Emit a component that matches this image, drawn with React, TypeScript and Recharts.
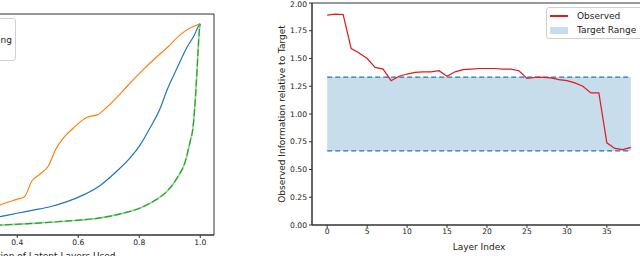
import {
  LineChart, Line, XAxis, YAxis, ReferenceArea, ReferenceLine,
} from 'recharts';

// left panel: three curves, x = fraction of latent layers used
const orangeX = [0.0, 0.1, 0.2, 0.3, 0.344, 0.399, 0.423, 0.448, 0.475, 0.502, 0.525, 0.552, 0.584, 0.63, 0.662, 0.695, 0.728, 0.761, 0.803, 0.846, 0.892, 0.934, 0.993, 1.0];
const orangeY = [0.0, 0.03, 0.07, 0.11, 0.142, 0.169, 0.18, 0.256, 0.289, 0.327, 0.403, 0.461, 0.507, 0.559, 0.569, 0.607, 0.654, 0.706, 0.769, 0.829, 0.888, 0.948, 0.997, 1.0];

const blueX = [0.0, 0.1, 0.2, 0.3, 0.344, 0.399, 0.453, 0.508, 0.563, 0.617, 0.672, 0.727, 0.77, 0.803, 0.836, 0.869, 0.891, 0.924, 0.957, 0.979, 0.997, 1.0];
const blueY = [0.0, 0.03, 0.05, 0.075, 0.087, 0.103, 0.118, 0.134, 0.158, 0.19, 0.235, 0.303, 0.365, 0.427, 0.509, 0.602, 0.687, 0.791, 0.891, 0.943, 0.995, 1.0];

const greenX = [0.0, 0.1, 0.2, 0.3, 0.344, 0.453, 0.563, 0.672, 0.738, 0.803, 0.847, 0.891, 0.924, 0.951, 0.967, 0.976, 0.987, 0.993, 0.997, 1.0];
const greenY = [0.02, 0.03, 0.037, 0.044, 0.047, 0.055, 0.066, 0.081, 0.1, 0.128, 0.16, 0.207, 0.27, 0.349, 0.444, 0.507, 0.719, 0.877, 0.97, 1.0];

const fracTicks = [0, 0.2, 0.4, 0.6, 0.8, 1.0];
const leftLegend = ['Sequential', 'Importance Ordering', 'Random'];

// right panel: observed information per layer
const layers = [0, 1, 2, 3, 4, 5, 6, 7, 8, 9, 10, 11, 12, 13, 14, 15, 16, 17, 18, 19, 20, 21, 22, 23, 24, 25, 26, 27, 28, 29, 30, 31, 32, 33, 34, 35, 36, 37, 38];
const observed = [1.89, 1.9, 1.895, 1.59, 1.55, 1.5, 1.42, 1.405, 1.3, 1.34, 1.36, 1.375, 1.38, 1.38, 1.39, 1.34, 1.38, 1.4, 1.405, 1.41, 1.41, 1.41, 1.405, 1.405, 1.39, 1.32, 1.33, 1.33, 1.325, 1.31, 1.3, 1.28, 1.25, 1.19, 1.19, 0.74, 0.69, 0.68, 0.7];
const targetLow = 0.667;
const targetHigh = 1.333;
const layerTicks = [0, 5, 10, 15, 20, 25, 30, 35];
const ratioTicks = [0, 0.25, 0.5, 0.75, 1.0, 1.25, 1.5, 1.75, 2.0];

const zip = (xs: number[], ys: number[]) => xs.map((x, i) => ({ x, y: ys[i] }));

const AXIS = '#333';
const TEXT = '#222';
const tickStyle = { fill: TEXT, fontSize: 7.6 };

function LeftPanel() {
  const series = [
    { key: 'orange', data: zip(orangeX, orangeY), color: '#ff7f0e' },
    { key: 'blue', data: zip(blueX, blueY), color: '#1f77b4' },
  ];
  const green = zip(greenX, greenY);
  return (
    <div style={{ position: 'absolute', left: -120, top: 0 }}>
      <LineChart width={344} height={280} margin={{ top: 14, right: 10, bottom: 15, left: 0 }}>
        <XAxis
          dataKey="x" type="number" domain={[-0.05, 1.045]} ticks={fracTicks}
          tickFormatter={(v) => v.toFixed(1)} tick={tickStyle} tickSize={3} tickMargin={2}
          height={30} stroke={AXIS} allowDataOverflow
          label={{ value: 'Fraction of Latent Layers Used', position: 'insideBottom', offset: 6, fontSize: 9, fill: TEXT }}
        />
        <YAxis type="number" domain={[0, 1.047]} hide allowDataOverflow />
        {series.map((s) => (
          <Line key={s.key} type="monotone" data={s.data} dataKey="y" stroke={s.color} strokeWidth={1.2} dot={false} isAnimationActive={false} />
        ))}
        <Line type="monotone" data={green} dataKey="y" stroke="#8fd68a" strokeWidth={1.6} dot={false} isAnimationActive={false} />
        <Line type="monotone" data={green} dataKey="y" stroke="#2ca02c" strokeWidth={1.2} strokeDasharray="7 3" dot={false} isAnimationActive={false} />
        <ReferenceArea x1={-0.05} x2={1.045} y1={0} y2={1.047} fill="none" stroke={AXIS} strokeWidth={1} />
      </LineChart>
    </div>
  );
}

function RightPanel() {
  const data = layers.map((layer, i) => ({ layer, observed: observed[i] }));
  return (
    <div style={{ position: 'absolute', left: 252, top: 0 }}>
      <LineChart width={404} height={256} data={data} margin={{ top: 3, right: 10, bottom: 3, left: 0 }}>
        <XAxis
          dataKey="layer" type="number" domain={[-1.9, 39.9]} ticks={layerTicks}
          tick={tickStyle} tickSize={3} tickMargin={1} height={28} stroke={AXIS} allowDataOverflow
          label={{ value: 'Layer Index', position: 'insideBottom', offset: 3, fontSize: 9, fill: TEXT }}
        />
        <YAxis
          type="number" domain={[0, 2]} ticks={ratioTicks} tickFormatter={(v) => v.toFixed(2)}
          tick={tickStyle} tickSize={3} tickMargin={2} width={60} stroke={AXIS} allowDataOverflow
          label={{ value: 'Observed Information relative to Target', angle: -90, position: 'center', fontSize: 9, fill: TEXT }}
        />
        <ReferenceArea x1={0} x2={38} y1={targetLow} y2={targetHigh} fill="#c7ddec" fillOpacity={1} stroke="none" />
        <ReferenceLine segment={[{ x: 0, y: targetHigh }, { x: 38, y: targetHigh }]} stroke="#1f77b4" strokeWidth={1.3} strokeDasharray="5 3" />
        <ReferenceLine segment={[{ x: 0, y: targetLow }, { x: 38, y: targetLow }]} stroke="#1f77b4" strokeWidth={1.3} strokeDasharray="5 3" />
        <Line dataKey="observed" stroke="#e3191c" strokeWidth={1.2} dot={false} isAnimationActive={false} />
        <ReferenceArea x1={-1.9} x2={39.9} y1={0} y2={2} fill="none" stroke={AXIS} strokeWidth={1} />
      </LineChart>
    </div>
  );
}

const legendBox = {
  position: 'absolute' as const,
  border: '1px solid #d0d0d0',
  borderRadius: 3,
  background: 'rgba(255,255,255,0.85)',
  fontSize: 9,
  color: TEXT,
};

export default function App() {
  const leftColors = ['#ff7f0e', '#1f77b4', '#2ca02c'];
  return (
    <div style={{ position: 'fixed', left: 0, top: 0, width: 640, height: 256, overflow: 'hidden', background: '#fff', fontFamily: '"DejaVu Sans", sans-serif' }}>
      <LeftPanel />
      <RightPanel />

      <div style={{ ...legendBox, right: 624, top: 18, padding: '1px 3px 1px 4px' }}>
        {leftLegend.map((name, i) => (
          <div key={name} style={{ display: 'flex', alignItems: 'center', height: 13, whiteSpace: 'nowrap' }}>
            <span style={{ width: 18, height: 1.5, background: leftColors[i], marginRight: 8 }} />
            <span>{name}</span>
          </div>
        ))}
      </div>

      <div style={{ ...legendBox, left: 546, top: 7, padding: '1px 6px 1px 3px' }}>
        <div style={{ display: 'flex', alignItems: 'center', height: 14, whiteSpace: 'nowrap' }}>
          <span style={{ width: 18, height: 1.5, background: '#e3191c', marginRight: 9 }} />
          <span>Observed</span>
        </div>
        <div style={{ display: 'flex', alignItems: 'center', height: 14, whiteSpace: 'nowrap' }}>
          <span style={{ width: 18, height: 7, background: '#c7ddec', marginRight: 9 }} />
          <span>Target Range</span>
        </div>
      </div>
    </div>
  );
}
